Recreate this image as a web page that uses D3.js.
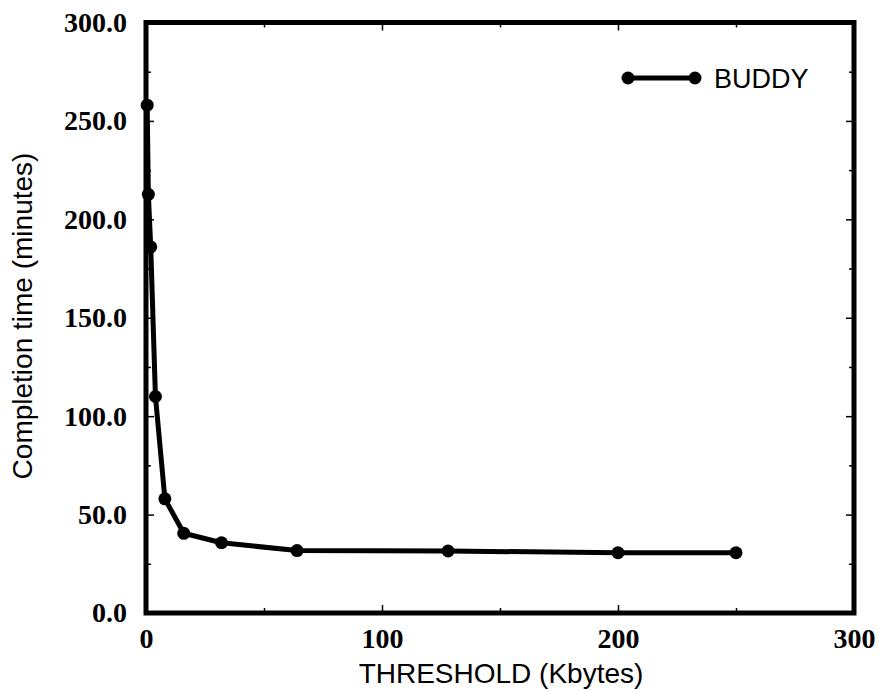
<!DOCTYPE html>
<html>
<head>
<meta charset="utf-8">
<script src="https://cdn.jsdelivr.net/npm/d3@7"></script>
<style>
body{margin:0;background:#fff;}
.tick line{stroke:#000;stroke-width:1.5;}
.domain{display:none;}
</style>
</head>
<body>
<div id="chart"></div>
<script>
// threshold (Kbytes) vs completion time (minutes)
var threshold=[0.5,1,2,4,8,16,32,64,128,200,250];
var buddy=[258,212.7,186,110,58,40.5,35.7,31.7,31.5,30.6,30.6];
var xTicks=[0,100,200,300];
var xMinor=[50,150,250];
var yTicks=[0,50,100,150,200,250,300];
var yMinor=[25,75,125,175,225,275];
var wide=879;
var high=691;
var plotL=146,plotR=854,plotT=22.5,plotB=613;
var svg=d3.select("#chart")
  .append("svg")
  .attr("width",wide)
  .attr("height",high);
var xscale=d3.scaleLinear().domain([0,300]).range([plotL,plotR]);
var yscale=d3.scaleLinear().domain([0,300]).range([plotB,plotT]);
var serif="'Liberation Serif','Times New Roman',serif";
var sans="'Liberation Sans',Arial,sans-serif";
// minor ticks, all four sides
function minorAxis(ax,pos){
  svg.append("g").attr("transform",pos).call(ax.tickSize(-5).tickFormat(""));
}
minorAxis(d3.axisLeft(yscale).tickValues(yMinor),"translate("+plotL+",0)");
minorAxis(d3.axisRight(yscale).tickValues(yMinor),"translate("+plotR+",0)");
minorAxis(d3.axisBottom(xscale).tickValues(xMinor),"translate(0,"+plotB+")");
minorAxis(d3.axisTop(xscale).tickValues(xMinor),"translate(0,"+plotT+")");
// major ticks
svg.append("g").attr("transform","translate(0,"+plotT+")")
  .call(d3.axisTop(xscale).tickValues(xTicks).tickSize(-8).tickFormat(""));
svg.append("g").attr("transform","translate("+plotR+",0)")
  .call(d3.axisRight(yscale).tickValues(yTicks).tickSize(-8).tickFormat(""));
var yaxis=svg.append("g").attr("transform","translate("+plotL+",0)")
  .call(d3.axisLeft(yscale).tickValues(yTicks).tickSize(-8).tickPadding(19).tickFormat(d3.format(".1f")));
var xaxis=svg.append("g").attr("transform","translate(0,"+plotB+")")
  .call(d3.axisBottom(xscale).tickValues(xTicks).tickSize(-8).tickPadding(15).tickFormat(d3.format("d")));
svg.selectAll(".tick text")
  .attr("fill","#000")
  .style("font-family",serif)
  .style("font-weight","bold")
  .style("font-size","28px");
// frame
svg.append("rect")
  .attr("x",plotL).attr("y",plotT)
  .attr("width",plotR-plotL).attr("height",plotB-plotT)
  .attr("fill","none").attr("stroke","#000").attr("stroke-width",5);
// series
var pts=threshold.map(function(d,i){return [d,buddy[i]];});
var line=d3.line()
  .x(function(d){return xscale(d[0]);})
  .y(function(d){return yscale(d[1]);});
svg.append("path")
  .datum(pts)
  .attr("d",line)
  .attr("fill","none")
  .attr("stroke","#000")
  .attr("stroke-width",5)
  .attr("stroke-linejoin","round");
svg.selectAll("circle.pt")
  .data(pts)
  .enter()
  .append("circle")
  .attr("class","pt")
  .attr("cx",function(d){return xscale(d[0]);})
  .attr("cy",function(d){return yscale(d[1]);})
  .attr("r",6.5)
  .attr("fill","#000");
// legend
var lg=svg.append("g").attr("transform","translate(628,78)");
lg.append("line").attr("x1",0).attr("x2",67).attr("y1",0).attr("y2",0)
  .attr("stroke","#000").attr("stroke-width",5);
lg.selectAll("circle").data([0,67]).enter().append("circle")
  .attr("cx",function(d){return d;}).attr("cy",0).attr("r",6.5).attr("fill","#000");
lg.append("text").attr("x",86).attr("y",10)
  .style("font-family",sans).style("font-size","27px")
  .text("BUDDY");
// axis titles
svg.append("text")
  .attr("x",501).attr("y",683)
  .attr("text-anchor","middle")
  .style("font-family",sans).style("font-size","28px")
  .text("THRESHOLD (Kbytes)");
svg.append("text")
  .attr("transform","translate(32,316)rotate(-90)")
  .attr("text-anchor","middle")
  .style("font-family",sans).style("font-size","28px")
  .text("Completion time (minutes)");
</script>
</body>
</html>
